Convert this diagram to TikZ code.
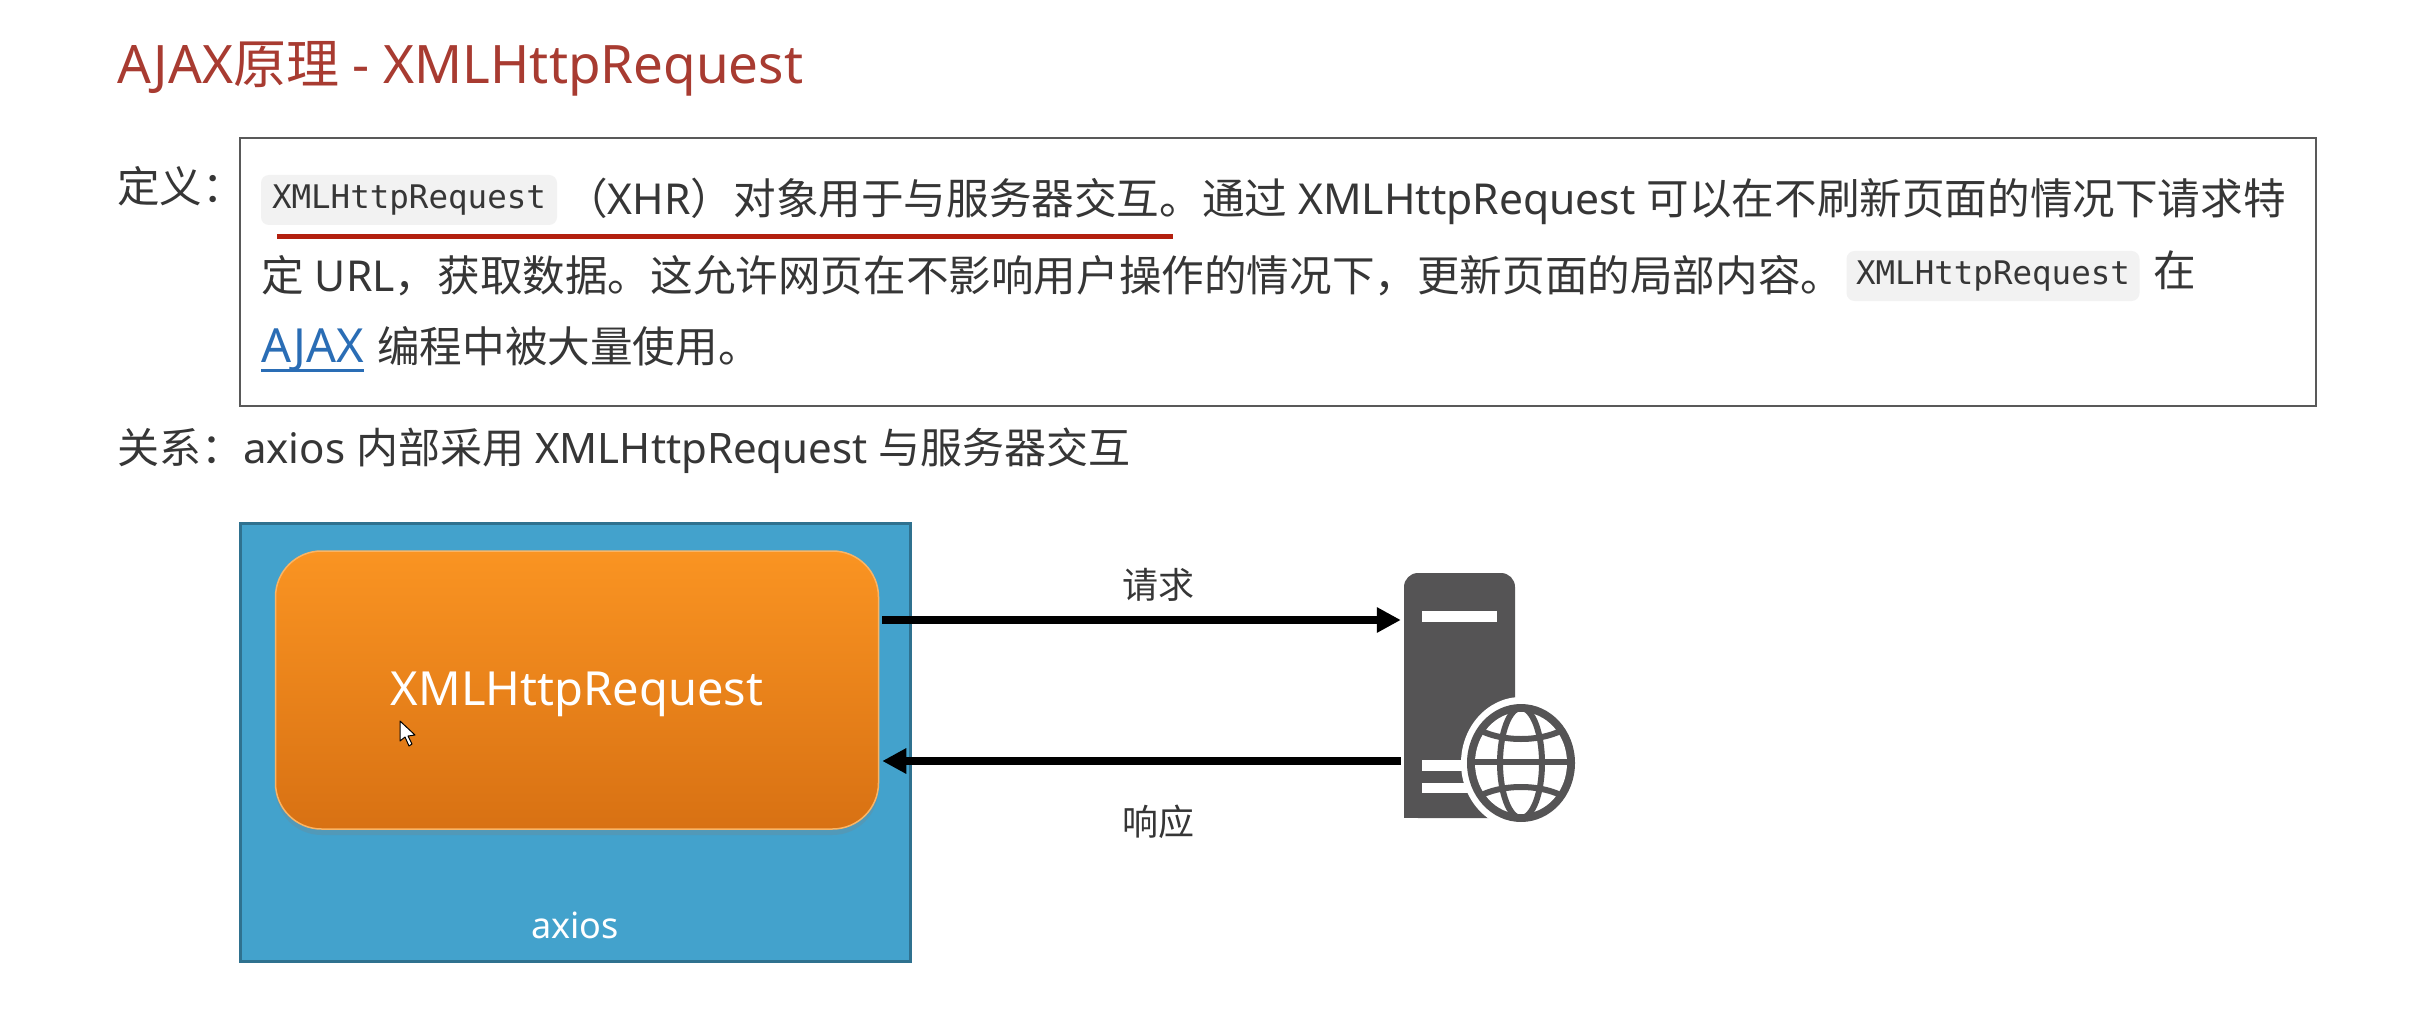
\documentclass[tikz,border=0pt]{standalone}
\usepackage{fontspec}
\setmainfont{Noto Sans}
\setmonofont{DejaVu Sans Mono}
\newfontfamily\cjk{Noto Sans CJK SC}
\usepackage{xcolor}
\usetikzlibrary{arrows.meta, positioning, shadows}
\definecolor{ink}{HTML}{363636}
\definecolor{titlered}{HTML}{A83B31}
\definecolor{linkblue}{HTML}{2A6DB5}
\definecolor{markred}{HTML}{B3200F}
\definecolor{axiosblue}{HTML}{43A2CC}
\definecolor{serverink}{HTML}{555455}
\definecolor{xhrtop}{HTML}{FA9422}
\definecolor{xhrmid}{HTML}{F4881D}
\definecolor{xhrbot}{HTML}{D87113}
\newcommand{\zh}[1]{{\cjk #1}}

\begin{document}
\begin{tikzpicture}[
  x=1pt, y=-1pt,
  txt/.style={inner sep=0pt, anchor=base west, text=ink, font=\fontsize{42.6}{46}\selectfont},
  codepill/.style={rectangle, fill=black!5, rounded corners=8pt, inner sep=0pt, minimum height=50pt, text=ink, font=\fontsize{32.5}{36}\ttfamily},
  arrow/.style={-{Triangle[length=24pt, width=24pt]}, line width=8pt, black, drop shadow={shadow xshift=0pt, shadow yshift=-3pt, opacity=0.2}}
]
  \useasboundingbox (0,0) rectangle (2411,1016);
  \fill[white] (0,0) rectangle (2411,1016);

  % Heading and the two label lines on the left
  \node[txt, text=titlered, font=\fontsize{53}{58}\selectfont] (title) at (117,84) {AJAX\zh{原理} - XMLHttpRequest};
  \node[txt] (deflabel) at (117,203) {\zh{定义：}};
  \node[draw=black!65, line width=2pt, minimum width=2076pt, minimum height=268pt, inner sep=0pt] (defbox) at (1278,272) {};
  \node[txt, font=\fontsize{42}{46}\selectfont] (rellabel) at (117,463) {\zh{关系：}axios \zh{内部采用} XMLHttpRequest \zh{与服务器交互}};

  % Definition text, line by line
  \node[codepill, minimum width=296pt] (pillone) at (409,200) {XMLHttpRequest};
  \node[txt] (lineone) at (565,215) {\zh{（}XHR\zh{）对象用于与服务器交互。通过} XMLHttpRequest \zh{可以在不刷新页面的情况下请求特}};
  \node[txt] (linetwo) at (261,291) {\zh{定} URL\zh{，获取数据。这允许网页在不影响用户操作的情况下，更新页面的局部内容。}};
  \node[codepill, minimum width=293pt] (pilltwo) at (1993,276) {XMLHttpRequest};
  \node[txt, right=14pt of pilltwo.east, anchor=base west, yshift=-11pt] (zai) {\zh{在}};
  \node[txt, text=linkblue, font=\fontsize{47}{51}\selectfont] (ajaxlink) at (261,362) {AJAX};
  \node[txt, right=13pt of ajaxlink.base east, anchor=base west] (linethree) {\zh{编程中被大量使用。}};
  \draw[linkblue, line width=3pt] ([yshift=-8pt]ajaxlink.base west) -- ([yshift=-8pt]ajaxlink.base east);
  \draw[markred, line width=5pt] (277,237) -- (1173,237);

  % axios box with the orange block inside
  \node[rectangle, draw=axiosblue!70!black, line width=3pt, fill=axiosblue, minimum width=670pt, minimum height=438pt, inner sep=0pt] (axiosbox) at (575,742) {};
  \node[inner sep=0pt, anchor=base, text=white, font=\fontsize{36}{40}\selectfont] (axioslabel) at (575,938) {axios};
  \node[rectangle, rounded corners=46pt, draw=xhrtop!70!white, line width=1.5pt, top color=xhrtop, middle color=xhrmid, bottom color=xhrbot, minimum width=603pt, minimum height=278pt, inner sep=0pt, drop shadow={shadow xshift=0pt, shadow yshift=-6pt, opacity=0.25}] (xhr) at (577,690) {};
  \node[inner sep=0pt, anchor=base, text=white, font=\fontsize{47}{51}\selectfont] (xhrlabel) at (577,705) {XMLHttpRequest};

  % Mouse pointer left on top of the block
  \draw[black, fill=white, line width=1pt, line join=round] (400,721) -- (400,741) -- (405,737) -- (409,746) -- (412,744) -- (408,736) -- (415,735) -- cycle;

  % Server tower with its globe
  \node[rectangle, fill=serverink, rounded corners=14pt, minimum width=111pt, minimum height=245pt, inner sep=0pt] (server) at (1459.5,695.5) {};
  \fill[serverink] (1404,770) rectangle (1480,818);
  \fill[white] (1422,611) rectangle (1497,622);
  \fill[white] (1422,760) rectangle (1480,771);
  \fill[white] (1422,783) rectangle (1480,793);
  \fill[white] (1521,763) ellipse [x radius=60, y radius=66];
  \fill[serverink] (1521,763) ellipse [x radius=54, y radius=59];
  \fill[white] (1521,763) ellipse [x radius=46, y radius=51];
  \begin{scope}
    \clip (1521,763) ellipse [x radius=50, y radius=55];
    \draw[serverink, line width=6pt] (1521,763) ellipse [x radius=21, y radius=55];
    \draw[serverink, line width=6pt] (1465,762) -- (1577,762);
    \draw[serverink, line width=6pt] (1470,724) .. controls (1495,744) and (1547,744) .. (1572,724);
    \draw[serverink, line width=6pt] (1470,802) .. controls (1495,782) and (1547,782) .. (1572,802);
  \end{scope}

  % Arrows between the block and the server
  \draw[arrow] ([yshift=70pt, xshift=3pt]xhr.east) -- ([yshift=75.5pt, xshift=-3pt]server.west);
  \draw[arrow] ([yshift=-65.5pt, xshift=-3pt]server.west) -- ([yshift=-71pt, xshift=3pt]xhr.east);
  \node[inner sep=0pt, text=ink, font=\fontsize{36}{40}\selectfont] (reqlabel) at (1158,585) {\zh{请求}};
  \node[inner sep=0pt, text=ink, font=\fontsize{36}{40}\selectfont] (resplabel) at (1158,822) {\zh{响应}};
\end{tikzpicture}
\end{document}
